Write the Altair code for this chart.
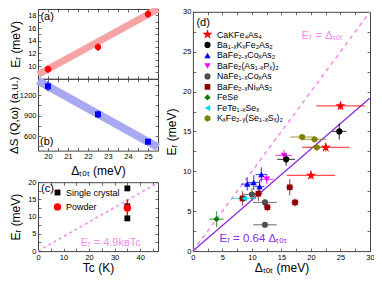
import altair as alt
import pandas as pd

FONT = "Liberation Sans"

# ---------------- data ----------------
# panels (a) and (b)
dtot_ab = [20.0, 22.5, 25.0]
er_a = [9.5, 13.0, 18.2]
er_a_err = [0.6, 0.6, 0.6]
band_a_x = [19.5, 25.5]
band_a_y = [8.65, 19.0]
ds_b = [1330, 920, 520]
ds_b_err = [70, 55, 35]
band_b_x = [19.5, 25.5]
band_b_y = [1410, 440]

# panel (c)
tc_single = [35, 35, 35]
er_single = [18.2, 13.0, 9.5]
tc_powder = [35]
er_powder = [12.5]
er_powder_err = [2.5]
kbtc_x = [0, 47]
kbtc_y = [0, 19.85]
c_types = ["Single crystal", "Powder"]

# panel (d)
d_names = ["CaKFe₄As₄", "Ba₁₋ₓKₓFe₂As₂", "BaFe₂₋ₓCoₓAs₂", "BaFe₂(As₁₋ₓPₓ)₂",
           "NaFe₁₋ₓCoₓAs", "BaFe₂₋ₓNiₓAs₂", "FeSe", "FeTe₁₋ₓSeₓ", "KₓFe₂₋ᵧ(Se₁₋ₓSₓ)₂"]
cak_x = [25.0, 22.5, 20.0]; cak_y = [18.2, 13.0, 9.5]
cak_xe = [4.1, 4.0, 4.1]; cak_ye = [0.5, 0.5, 0.5]
bak_x = [24.8, 15.8]; bak_y = [15.0, 11.5]
bak_xe = [1.2, 1.5]; bak_ye = [1.0, 0.8]
baco_x = [9.2, 10.3, 11.3, 11.6]; baco_y = [8.4, 8.6, 8.1, 9.6]
baco_xe = [1.0, 1.0, 0.8, 1.0]; baco_ye = [0.8, 0.9, 0.8, 0.9]
bap_x = [12.5, 15.4]; bap_y = [9.0, 12.0]
bap_xe = [1.2, 1.4]; bap_ye = [0.6, 0.7]
nafe_x = [10.0, 12.2, 12.2]; nafe_y = [7.1, 6.1, 3.3]
nafe_xe = [1.5, 2.0, 2.0]; nafe_ye = [0.8, 0.4, 0.3]
bani_x = [16.4, 8.4, 11.1, 12.6, 17.3]; bani_y = [8.0, 6.6, 7.2, 5.5, 6.1]
bani_xe = [0.6, 0.7, 0.7, 0.6, 0.6]; bani_ye = [1.0, 0.9, 0.9, 0.5, 0.5]
fese_x = [4.0]; fese_y = [4.0]; fese_xe = [1.2]; fese_ye = [1.0]
fete_x = [8.7]; fete_y = [6.6]; fete_xe = [2.1]; fete_ye = [0.2]
kfe_x = [18.5, 20.6, 21.0]; kfe_y = [14.3, 14.0, 13.0]
kfe_xe = [2.0, 2.0, 1.2]; kfe_ye = [0.3, 0.3, 0.3]
diag_x = [0, 30]; diag_y = [0, 30]
fit_x = [0, 30]; fit_y = [0, 19.2]

# ---------------- styles / layout ----------------
STAR = "M0,-1L0.225,-0.309L0.951,-0.309L0.363,0.118L0.588,0.809L0,0.382L-0.588,0.809L-0.363,0.118L-0.951,-0.309L-0.225,-0.309Z"
HEX = "M0,-1L0.866,-0.5L0.866,0.5L0,1L-0.866,0.5L-0.866,-0.5Z"
d_colors = ["#ff0000", "#000000", "#0000ff", "#ff00ff", "#505050", "#8b0000", "#008000", "#00e0f0", "#808000"]
d_shapes = [STAR, "circle", "triangle-up", "triangle-down", "circle", "square", "diamond", "triangle-left", HEX]
d_sizes = [115, 38, 40, 40, 38, 32, 40, 40, 45]
PINK = "#f08cf0"
PURPLE = "#8a2be2"
FRAME = "#444444"

W, H = 366, 268
PA = dict(xd=[19.5, 25.5], xr=[30, 150], yd=[8, 19], yr=[70.8, 1.0])
PB = dict(xd=[19.5, 25.5], xr=[30, 150], yd=[390, 1440], yr=[142.6, 70.8])
PC = dict(xd=[0, 47], xr=[30, 150], yd=[0, 20], yr=[243.1, 174.2])
PD = dict(xd=[0, 30], xr=[184.9, 362], yd=[0, 30], yr=[243.1, 3.8])


def sc(dom, rng):
    return alt.Scale(domain=dom, range=rng, nice=False, zero=False)


def X(field, P, axis=None):
    return alt.X(field, type="quantitative", scale=sc(P["xd"], P["xr"]), axis=axis)


def Y(field, P, axis=None):
    return alt.Y(field, type="quantitative", scale=sc(P["yd"], P["yr"]), axis=axis)


TICK = dict(labels=False, domain=True, domainColor=FRAME, domainWidth=1, ticks=True,
            tickSize=3, tickColor=FRAME, tickWidth=0.8, title=None, grid=False)


def frame_layers(P, xmain, ymain, xt, yt):
    x0, x1 = P["xr"]
    yb, ytop = P["yr"]
    dummy = pd.DataFrame({"x": [P["xd"][0]], "y": [P["yd"][0]]})
    l1 = alt.Chart(dummy).mark_point(opacity=0).encode(x=X("x", P, xmain), y=Y("y", P, ymain))
    l2 = alt.Chart(dummy).mark_point(opacity=0).encode(
        x=X("x", P, alt.Axis(orient="top", offset=-yb, values=xt, **TICK)),
        y=Y("y", P, alt.Axis(orient="right", offset=-(W - x0), values=yt, **TICK)))
    l3 = alt.Chart(dummy).mark_point(opacity=0).encode(
        x=X("x", P, alt.Axis(orient="bottom", offset=-(H - ytop), values=xt, **TICK)),
        y=Y("y", P, alt.Axis(orient="left", offset=-x1, values=yt, **TICK)))
    return [l1, l2, l3]


def main_y(P, title, values, fmt=None, tx=None, tsize=12):
    kw = dict(orient="left", offset=-P["xr"][0], title=title, values=values, ticks=False,
              domain=False, grid=False, labelPadding=2, labelFontSize=7.5, titleFontSize=tsize)
    if fmt:
        kw["format"] = fmt
    if tx is not None:
        kw["titleX"] = tx
    return alt.Axis(**kw)


def main_x(P, title, values, tpad=2):
    return alt.Axis(orient="bottom", offset=-(H - P["yr"][0]), title=title, values=values,
                    ticks=False, domain=False, grid=False, labelPadding=2, labelFlush=False,
                    labelFontSize=7.5, titlePadding=tpad, titleFontSize=12)


def label(P, x, y, text, color="black", size=11):
    return alt.Chart(pd.DataFrame({"x": [x], "y": [y], "t": [text]})).mark_text(
        align="left", baseline="middle", fontSize=size, color=color, font=FONT).encode(
        x=X("x", P), y=Y("y", P), text="t:N")


halves = [19.5 + 0.5 * i for i in range(13)]
layers = []

# ---------------- panel (a) ----------------
df_a = pd.DataFrame({"x": dtot_ab, "y": er_a,
                     "lo": [v - e for v, e in zip(er_a, er_a_err)],
                     "hi": [v + e for v, e in zip(er_a, er_a_err)]})
layers += frame_layers(PA, None, main_y(PA, "Eᵣ (meV)", [10, 12, 14, 16, 18], tx=-16),
                       halves, list(range(8, 20)))
layers += [
    alt.Chart(pd.DataFrame({"x": band_a_x, "y": band_a_y})).mark_line(
        color="#f5a3a3", strokeWidth=7, strokeCap="butt").encode(x=X("x", PA), y=Y("y", PA)),
    alt.Chart(df_a).mark_rule(color="red", strokeWidth=1.2).encode(
        x=X("x", PA), y=Y("lo", PA), y2="hi"),
    alt.Chart(df_a).mark_circle(color="red", size=40, opacity=1).encode(x=X("x", PA), y=Y("y", PA)),
    label(PA, 19.62, 17.8, "(a)"),
]

# ---------------- panel (b) ----------------
df_b = pd.DataFrame({"x": dtot_ab, "y": ds_b,
                     "lo": [v - e for v, e in zip(ds_b, ds_b_err)],
                     "hi": [v + e for v, e in zip(ds_b, ds_b_err)]})
layers += frame_layers(PB, main_x(PB, "Δₜₒₜ (meV)", [20, 21, 22, 23, 24, 25], tpad=5),
                       main_y(PB, "ΔS (Q,ω) (a.u.)", [600, 900, 1200], fmt="d", tx=-19, tsize=11.5),
                       halves, [450, 600, 750, 900, 1050, 1200, 1350])
layers += [
    alt.Chart(pd.DataFrame({"x": band_b_x, "y": band_b_y})).mark_line(
        color="#a9a9f3", strokeWidth=8, strokeCap="butt").encode(x=X("x", PB), y=Y("y", PB)),
    alt.Chart(df_b).mark_rule(color="blue", strokeWidth=1.2).encode(
        x=X("x", PB), y=Y("lo", PB), y2="hi"),
    alt.Chart(df_b).mark_square(color="blue", size=36, opacity=1).encode(x=X("x", PB), y=Y("y", PB)),
    label(PB, 19.6, 520, "(b)"),
]

# ---------------- panel (c) ----------------
df_c = pd.DataFrame({"x": tc_single + tc_powder, "y": er_single + er_powder,
                     "type": [c_types[0]] * len(tc_single) + [c_types[1]] * len(tc_powder)})
df_cp = pd.DataFrame({"x": tc_powder,
                      "lo": [v - e for v, e in zip(er_powder, er_powder_err)],
                      "hi": [v + e for v, e in zip(er_powder, er_powder_err)]})
leg_c = alt.Legend(orient="none", legendX=45, legendY=180, title=None, labelFontSize=9,
                   labelFont=FONT, rowPadding=4.4, labelOffset=4, padding=0, symbolStrokeWidth=0)
layers += frame_layers(PC, main_x(PC, "Tc (K)", [0, 10, 20, 30, 40]),
                       main_y(PC, "Eᵣ (meV)", [0, 5, 10, 15, 20], tx=-16),
                       [5 * i for i in range(10)], [2.5 * i for i in range(9)])
layers += [
    alt.Chart(pd.DataFrame({"x": kbtc_x, "y": kbtc_y})).mark_line(
        color=PINK, strokeWidth=1.5, strokeDash=[3, 3]).encode(x=X("x", PC), y=Y("y", PC)),
    alt.Chart(df_cp).mark_rule(color="red", strokeWidth=1.5).encode(
        x=X("x", PC), y=Y("lo", PC), y2="hi"),
    alt.Chart(df_c).mark_point(filled=True, opacity=1, strokeWidth=0).encode(
        x=X("x", PC), y=Y("y", PC),
        color=alt.Color("type:N", scale=alt.Scale(domain=c_types, range=["black", "red"]), legend=leg_c),
        shape=alt.Shape("type:N", scale=alt.Scale(domain=c_types, range=["square", "circle"]), legend=leg_c),
        size=alt.Size("type:N", scale=alt.Scale(type="ordinal", domain=c_types, range=[34, 55]), legend=leg_c)),
    label(PC, 1.2, 18.1, "(c)"),
    label(PC, 16.7, 2.4, "Eᵣ = 4.9kʙTc", color=PINK, size=11),
]

# ---------------- panel (d) ----------------
series = [(cak_x, cak_y, cak_xe, cak_ye), (bak_x, bak_y, bak_xe, bak_ye),
          (baco_x, baco_y, baco_xe, baco_ye), (bap_x, bap_y, bap_xe, bap_ye),
          (nafe_x, nafe_y, nafe_xe, nafe_ye), (bani_x, bani_y, bani_xe, bani_ye),
          (fese_x, fese_y, fese_xe, fese_ye), (fete_x, fete_y, fete_xe, fete_ye),
          (kfe_x, kfe_y, kfe_xe, kfe_ye)]
rows = []
for i, (xs, ys, xe, ye) in enumerate(series):
    for x, y, a, b in zip(xs, ys, xe, ye):
        rows.append(dict(series=d_names[i], col=d_colors[i], x=x, y=y,
                         xlo=x - a, xhi=x + a, ylo=y - b, yhi=y + b))
df_d = pd.DataFrame(rows)
leg_d = alt.Legend(orient="none", legendX=194, legendY=21, title=None, labelFontSize=8.8,
                   labelFont=FONT, rowPadding=0.5, labelOffset=4, padding=0, symbolStrokeWidth=0)
d5 = [0, 5, 10, 15, 20, 25, 30]
layers += frame_layers(PD, main_x(PD, "Δₜₒₜ (meV)", d5), main_y(PD, "Eᵣ (meV)", d5),
                       [2.5 * i for i in range(13)], [2.5 * i for i in range(13)])
layers += [
    alt.Chart(pd.DataFrame({"x": diag_x, "y": diag_y})).mark_line(
        color=PINK, strokeWidth=1.5, strokeDash=[4, 4]).encode(x=X("x", PD), y=Y("y", PD)),
    alt.Chart(pd.DataFrame({"x": fit_x, "y": fit_y})).mark_line(
        color=PURPLE, strokeWidth=1.3).encode(x=X("x", PD), y=Y("y", PD)),
    alt.Chart(df_d).mark_rule(strokeWidth=1.2, opacity=0.7).encode(
        x=X("xlo", PD), x2="xhi", y=Y("y", PD), stroke=alt.Stroke("col:N", scale=None)),
    alt.Chart(df_d).mark_rule(strokeWidth=1.2, opacity=0.7).encode(
        x=X("x", PD), y=Y("ylo", PD), y2="yhi", stroke=alt.Stroke("col:N", scale=None)),
    alt.Chart(df_d).mark_point(filled=True, opacity=1, strokeWidth=0).encode(
        x=X("x", PD), y=Y("y", PD),
        color=alt.Color("series:N", scale=alt.Scale(domain=d_names, range=d_colors), legend=leg_d),
        shape=alt.Shape("series:N", scale=alt.Scale(domain=d_names, range=d_shapes), legend=leg_d),
        size=alt.Size("series:N", scale=alt.Scale(type="ordinal", domain=d_names, range=d_sizes),
                      legend=leg_d)),
    label(PD, 0.6, 28.6, "(d)"),
    label(PD, 18.4, 27.0, "Eᵣ = Δₜₒₜ", color=PINK, size=11.5),
    label(PD, 4.5, 1.5, "Eᵣ = 0.64 Δₜₒₜ", color=PURPLE, size=11.5),
]

chart = alt.layer(*layers).resolve_scale(
    x="independent", y="independent", color="independent", shape="independent",
    size="independent").resolve_axis(x="independent", y="independent").properties(
    width=W, height=H, autosize=alt.AutoSizeParams(type="none"), padding=0).configure_view(
    stroke="transparent").configure_axis(
    labelFont=FONT, titleFont=FONT, labelColor="black", titleColor="black",
    titleFontWeight="normal").configure_legend(labelFont=FONT)

chart.save("out.html", embed_options={"renderer": "svg", "actions": False})
